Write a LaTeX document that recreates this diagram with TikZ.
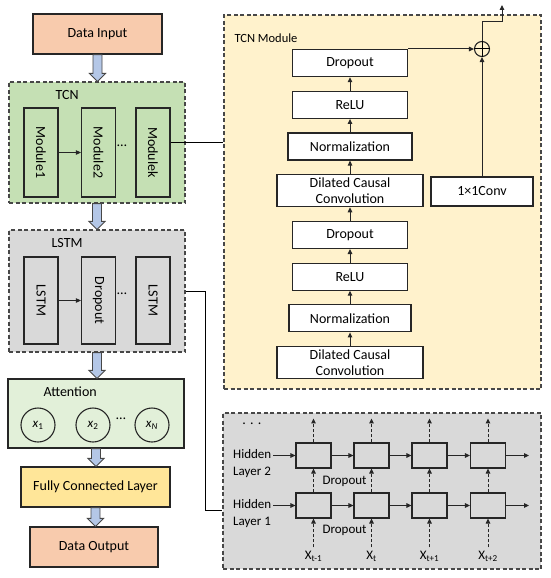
\documentclass[tikz,border=0pt]{standalone}
\usepackage{fontspec}
\setmainfont{Carlito}
\usetikzlibrary{arrows.meta,positioning,calc}
\definecolor{Salmon}{HTML}{F8CBAD}
\definecolor{Leaf}{HTML}{C5E0B4}
\definecolor{PaleLeaf}{HTML}{E2F0D9}
\definecolor{Butter}{HTML}{FFE699}
\definecolor{Cream}{HTML}{FFF2CC}
\definecolor{Ash}{HTML}{D9D9D9}
\definecolor{Sky}{HTML}{B4C7E7}
\definecolor{Ink}{HTML}{262626}
% block arrow between two stacked boxes
\newcommand\bluearrow[2]{%
  \path[fill=Sky,draw=Ink!85,line width=0.9pt]
    let \p1=(#1.south), \p2=(#2.north) in
    (\x1-4.5pt,\y1) -- (\x1-4.5pt,\y2+8pt) -- (\x1-8pt,\y2+8pt) -- (\x1,\y2)
    -- (\x1+8pt,\y2+8pt) -- (\x1+4.5pt,\y2+8pt) -- (\x1+4.5pt,\y1) -- cycle;}

\begin{document}
\begin{tikzpicture}[x=1pt,y=-1pt,>={Triangle[length=5pt,width=4.5pt]},
    font=\fontsize{14}{16}\selectfont]
    \tikzset{
      blk/.style={draw=Ink,line width=1.2pt,align=center,inner sep=1pt},
      frame/.style={draw=Ink!85,line width=1.2pt,dash pattern=on 4pt off 2.5pt},
      module/.style={blk,fill=Leaf,minimum width=89pt,minimum height=34pt,rotate=-90},
      stage/.style={blk,fill=white,minimum width=115pt,minimum height=27pt},
      cell/.style={draw=Ink,line width=1.1pt,fill=Ash,minimum width=35pt,minimum height=25pt},
      small/.style={font=\fontsize{13}{17}\selectfont},
      link/.style={->,line width=1pt,draw=Ink},
      dashlink/.style={link,dash pattern=on 3pt off 2pt}
    }
    \useasboundingbox (0,0) rectangle (550,578);

    % main column
    \node[blk,fill=Salmon,minimum width=129pt,minimum height=40pt] (input) at (97.5,34) {Data Input};
    \node[frame,fill=Leaf,minimum width=176pt,minimum height=121pt] (tcn) at (97,142.5) {};
    \node[anchor=west] (tcnlab) at (52,95) {TCN};
    \node[module] (mod1) at (41,152.5) {Module1};
    \node[module] (mod2) at (98.5,152.5) {Module2};
    \node[module] (modk) at (153,152.5) {Modulek};
    \node (tdots) at (122,146) {…};

    \node[frame,fill=Ash,minimum width=176pt,minimum height=122pt] (lstm) at (97,291) {};
    \node[anchor=west] (lstmlab) at (48,243) {LSTM};
    \node[module,fill=Ash,minimum width=87pt] (lay1) at (41,300.5) {LSTM};
    \node[module,fill=Ash,minimum width=87pt] (lay2) at (98.5,300.5) {Dropout};
    \node[module,fill=Ash,minimum width=87pt] (lay3) at (153,300.5) {LSTM};
    \node (ldots) at (122,294) {…};

    \node[blk,fill=PaleLeaf,minimum width=176pt,minimum height=69pt] (att) at (96,413.5) {};
    \node[anchor=west] (attlab) at (40,392) {Attention};
    \foreach \n/\x/\s in {att1/38/1,att2/93/2,attN/152/\textit{N}}
      \node[circle,draw=Ink,line width=1.1pt,minimum size=34pt,inner sep=0pt,small] (\n) at (\x,425)
        {\textit{x}\textsubscript{\s}};
    \node (adots) at (121,419) {…};

    \node[blk,fill=Butter,minimum width=149pt,minimum height=40pt] (fc) at (95.5,487) {Fully Connected Layer};
    \node[blk,fill=Salmon,minimum width=128pt,minimum height=40pt] (output) at (94,547) {Data Output};

    \foreach \a/\b in {input/tcn,tcn/lstm,lstm/att,att/fc,fc/output}
      \bluearrow{\a}{\b};
    \draw[link] (mod1.north) -- (mod2.south);
    \draw[link] (lay1.north) -- (lay2.south);

    % TCN module
    \node[frame,fill=Cream,minimum width=317pt,minimum height=374pt] (tcnmod) at (382.5,202) {};
    \node[anchor=west,font=\fontsize{12.5}{14}\selectfont] (modlab) at (231,38) {TCN Module};
    \node[stage,minimum width=146pt,minimum height=32pt] (dcc1) at (350,362.5) {Dilated Causal\\Convolution};
    \node[stage,minimum width=122pt,above=13.5pt of dcc1] (norm1) {Normalization};
    \node[stage,above=13.5pt of norm1] (relu1) {ReLU};
    \node[stage,above=13.5pt of relu1] (drop1) {Dropout};
    \node[stage,minimum width=146pt,minimum height=32pt,above=13.5pt of drop1] (dcc2) {Dilated Causal\\Convolution};
    \node[stage,minimum width=124pt,above=13.5pt of dcc2] (norm2) {Normalization};
    \node[stage,above=13.5pt of norm2] (relu2) {ReLU};
    \node[stage,above=13.5pt of relu2] (drop2) {Dropout};
    \foreach \a/\b in {dcc1/norm1,norm1/relu1,relu1/drop1,drop1/dcc2,dcc2/norm2,norm2/relu2,relu2/drop2}
      \draw[link] (\a) -- (\b);
    \node[stage,minimum width=102pt,minimum height=29pt] (conv) at (482,191.5) {1×1Conv};
    \node[circle,draw=Ink,line width=1.1pt,minimum size=15pt,inner sep=0pt] (sum) at (482,49) {};
    \draw[line width=1pt] (sum.north) -- (sum.south) (sum.west) -- (sum.east);
    \draw[link] (drop2.north east) -- ++(5,0) |- (sum.west);
    \draw[link] (conv) -- (sum);
    \coordinate (exit) at (502,5);
    \draw[link] (sum.north) -- ++(0,-19.5) -| (exit);
    \draw[line width=1pt] ([yshift=10.5pt]modk.north) -- ([yshift=10.5pt]modk.north -| tcnmod.west);

    % unrolled LSTM
    \node[frame,fill=Ash,minimum width=318pt,minimum height=156pt] (unroll) at (382,491) {};
    \node (udots) at (252,424) {. . .};
    \foreach \i/\x/\t in {1/313.5/t-1,2/371.5/t,3/429.5/t+1,4/488/t+2} {
      \node[cell] (lo\i) at (\x,505.5) {};
      \node[cell] (hi\i) at (\x,455.5) {};
      \node[small] (in\i) at (\x,556) {X\textsubscript{\t}};
      \draw[dashlink] (in\i.north) -- (lo\i.south);
      \draw[dashlink] (lo\i) -- (hi\i);
      \draw[dashlink] (hi\i.north) -- ++(0,-24);
    }
    \foreach \i/\j in {1/2,2/3,3/4} {
      \draw[link] (lo\i) -- (lo\j);
      \draw[link] (hi\i) -- (hi\j);
    }
    \draw[link] (lo4.east) -- ++(23,0);
    \draw[link] (hi4.east) -- ++(23,0);
    \node[small,align=left,inner sep=2pt,anchor=west] (hid2) at (231,463.5) {Hidden\\Layer 2};
    \node[small,align=left,inner sep=2pt,anchor=west] (hid1) at (231,513.5) {Hidden\\Layer 1};
    \draw[link] (hi1.west -| hid2.east) -- (hi1.west);
    \draw[link] (lo1.west -| hid1.east) -- (lo1.west);
    \node[small,anchor=west] (drophi) at (319,481) {Dropout};
    \node[small,anchor=west] (droplo) at (319,530) {Dropout};
    \coordinate (bend) at (205,510);
    \draw[line width=1pt] (lstm.east) -| (bend) -- (bend -| unroll.west);
  \end{tikzpicture}
\end{document}
